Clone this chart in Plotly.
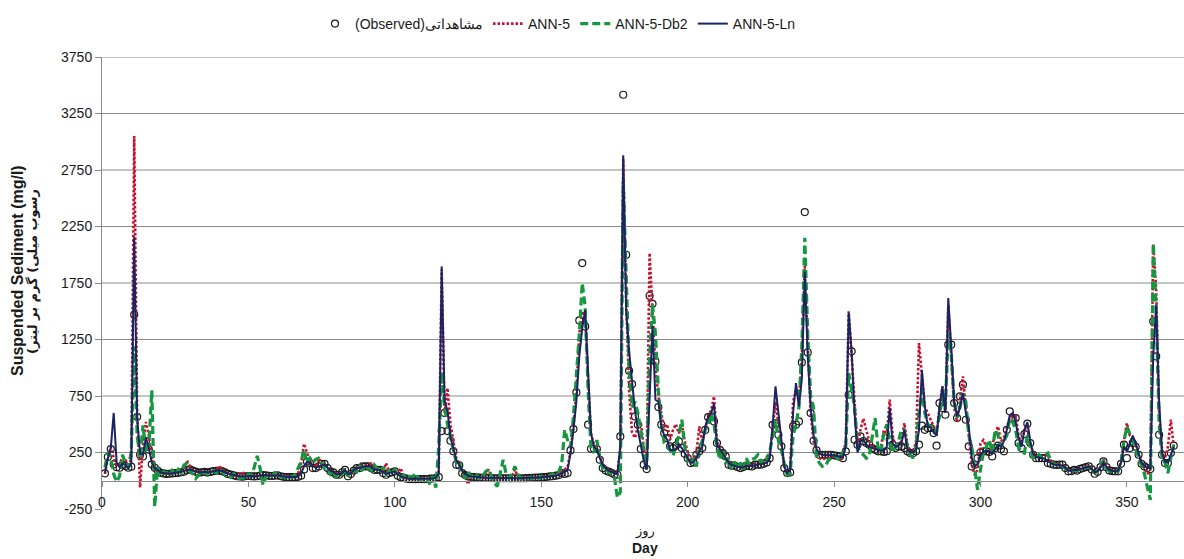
import plotly.graph_objects as go

days = list(range(1, 367))

observed = [
    65, 210, 280, 145, 120, 115, 140, 130, 115, 125,
    1470, 566, 230, 215, 350, 275, 145, 115, 90, 70,
    65, 60, 62, 65, 68, 70, 75, 80, 95, 100,
    90, 80, 72, 75, 78, 72, 78, 85, 88, 90,
    85, 75, 60, 55, 48, 40, 38, 36, 40, 42,
    40, 38, 40, 45, 50, 48, 44, 42, 45, 48,
    40, 35, 32, 32, 32, 32, 35, 45, 100, 170,
    156, 112, 112, 127, 150, 150, 112, 83, 74, 53,
    53, 74, 97, 40, 60, 90, 112, 112, 127, 127,
    127, 110, 97, 97, 97, 68, 53, 68, 75, 83,
    44, 32, 25, 18, 15, 15, 15, 15, 15, 15,
    15, 18, 20, 24, 32, 440, 600, 440, 354, 260,
    142, 136, 68, 50, 38, 35, 33, 30, 28, 25,
    25, 25, 24, 22, 22, 22, 22, 22, 22, 22,
    22, 22, 22, 22, 24, 25, 25, 27, 28, 30,
    32, 35, 38, 40, 45, 50, 68, 60, 68, 268,
    457, 782, 1419, 1926, 1366, 496, 283, 283, 280, 186,
    112, 90, 80, 70, 55, 53, 392, 3416, 2000, 973,
    855, 569, 496, 280, 142, 103, 1637, 1566, 1056, 652,
    496, 420, 378, 304, 289, 310, 348, 289, 240, 200,
    156, 162, 230, 260, 289, 450, 563, 569, 525, 333,
    274, 245, 215, 142, 133, 133, 121, 112, 121, 133,
    130, 127, 142, 142, 142, 150, 162, 200, 495, 510,
    407, 304, 112, 68, 74, 481, 496, 525, 1047, 2378,
    1136, 599, 354, 268, 230, 230, 230, 230, 230, 225,
    220, 215, 200, 260, 761, 1145, 363, 319, 392, 350,
    333, 319, 289, 274, 260, 260, 255, 260, 363, 319,
    289, 304, 304, 289, 260, 245, 245, 260, 319, 487,
    451, 466, 466, 422, 310, 687, 643, 584, 1204, 1204,
    687, 555, 746, 850, 540, 304, 127, 142, 200, 250,
    260, 260, 255, 215, 289, 310, 280, 260, 451, 614,
    546, 555, 333, 289, 413, 505, 333, 230, 200, 200,
    200, 200, 156, 150, 142, 140, 142, 142, 112, 83,
    85, 97, 90, 105, 112, 120, 127, 100, 62, 80,
    120, 171, 120, 91, 85, 83, 83, 150, 319, 200,
    289, 333, 300, 230, 150, 127, 112, 103, 1410, 1100,
    407, 230, 156, 156, 245, 310,
]

ann5 = [
    60, 200, 300, 200, 130, 150, 210, 190, 120, 200,
    3050, 600, -60, 330, 520, 400, 220, 110, 85, 70,
    65, 60, 65, 68, 72, 75, 80, 95, 180, 130,
    95, 85, 80, 78, 82, 76, 82, 90, 95, 130,
    100, 80, 65, 60, 52, 45, 60, 75, 50, 45,
    42, 40, 45, 48, 50, 50, 48, 45, 48, 50,
    45, 40, 36, 35, 35, 38, 60, 150, 327, 240,
    170, 140, 120, 200, 150, 140, 110, 95, 80, 65,
    60, 75, 100, 60, 70, 100, 115, 118, 130, 135,
    140, 150, 105, 100, 100, 80, 156, 80, 85, 90,
    60, 112, 40, 25, 20, 18, 20, 18, 18, 18,
    18, 20, 25, 40, 80, 1870, 600, 820, 500, 360,
    200, 150, 80, 40, -30, 40, 38, 35, 32, 30,
    60, 100, 40, 25, 25, 26, 30, 25, 25, 40,
    100, 40, 25, 24, 25, 26, 26, 28, 29, 31,
    33, 36, 40, 42, 50, 60, 75, 100, 120, 260,
    480, 800, 1300, 1500, 1450, 900, 420, 320, 300, 220,
    150, 115, 95, 85, 70, 60, 300, 2850, 1600, 800,
    430, 380, 480, 520, 300, 150, 2015, 1500, 1000, 750,
    600, 450, 500, 363, 450, 500, 420, 500, 350, 250,
    170, 180, 250, 480, 350, 450, 580, 620, 746, 350,
    290, 250, 220, 170, 150, 140, 130, 120, 125, 135,
    140, 135, 145, 150, 150, 155, 165, 210, 450, 700,
    500, 320, 130, 70, 100, 700, 800, 700, 1100, 1900,
    1200, 600, 350, 250, 200, 186, 200, 200, 210, 220,
    200, 190, 220, 350, 1500, 1100, 700, 300, 450, 550,
    450, 350, 300, 280, 280, 300, 450, 400, 717, 400,
    300, 320, 350, 510, 330, 260, 250, 350, 1218, 950,
    650, 600, 540, 480, 400, 650, 835, 600, 1550, 1150,
    650, 520, 700, 923, 650, 400, 150, 50, 100, 330,
    360, 300, 250, 300, 420, 480, 350, 380, 480, 560,
    580, 575, 400, 320, 450, 480, 320, 250, 220, 215,
    210, 220, 230, 180, 155, 150, 145, 140, 120, 95,
    90, 95, 95, 105, 115, 120, 128, 100, 70, 85,
    125, 190, 130, 95, 90, 85, 90, 170, 350, 510,
    400, 380, 320, 230, 150, 120, 60, 100, 2090, 1700,
    600, 280, 200, 300, 540, 300,
]

ann5_db2 = [
    120, 250, 200, 60, -10, 40, 230, 150, 120, 260,
    1190, 400, 200, 490, 250, 300, 800, -230, 120, 40,
    80, 70, 40, 90, 60, 100, 70, 140, 150, 90,
    60, 20, 50, 90, 70, 60, 100, 90, 70, 110,
    80, 50, 40, 30, 60, 30, 20, 30, 10, 60,
    50, 120, 220, 110, -40, 40, 60, 40, 70, 50,
    30, 40, 20, 40, 30, 60, 120, 170, 275, 150,
    200, 160, 190, 200, 170, 110, 120, 60, 90, 30,
    70, 60, 110, 40, 90, 100, 80, 130, 100, 140,
    110, 90, 140, 110, 70, 120, 60, 90, 60, 100,
    40, 30, 50, 20, 40, 30, 68, 20, 10, 30,
    20, -30, 40, -60, 300, 960, 650, 500, 380, 250,
    160, 170, 60, 20, 80, 40, 10, 50, 20, 40,
    80, 100, 30, -20, -50, 60, 185, 60, 20, 60,
    127, 60, 20, 30, 20, 30, 20, 30, 20, 40,
    30, 40, 50, 60, 40, 80, 150, 450, 360, 300,
    570, 900, 1300, 1750, 1540, 800, 275, 250, 360, 200,
    110, 120, 70, 60, 30, -150, -100, 2650, 1800, 1000,
    650, 700, 600, 450, 250, 100, 1100, 1560, 1300, 800,
    500, 333, 300, 274, 220, 300, 400, 540, 300, 180,
    140, 200, 127, 300, 350, 450, 500, 600, 500, 300,
    186, 280, 150, 200, 100, 170, 110, 160, 100, 200,
    150, 190, 200, 230, 160, 200, 180, 250, 400, 540,
    350, 280, 150, 50, 60, 400, 500, 650, 1200, 2150,
    1300, 750, 650, 200, 156, 127, 127, 180, 200, 230,
    200, 180, 250, 300, 953, 800, 650, 300, 250, 230,
    200, 215, 400, 555, 300, 250, 420, 500, 350, 250,
    300, 350, 450, 450, 300, 230, 200, 300, 600, 800,
    600, 500, 480, 430, 450, 570, 750, 650, 1300, 1130,
    700, 560, 650, 775, 700, 400, 304, 100, -80, 100,
    250, 300, 363, 250, 450, 400, 300, 350, 400, 550,
    520, 450, 300, 250, 245, 400, 300, 200, 200, 230,
    200, 230, 245, 180, 150, 140, 145, 130, 110, 90,
    85, 95, 90, 105, 110, 115, 120, 95, 70, 90,
    130, 180, 110, 85, 80, 80, 85, 160, 350, 480,
    420, 350, 280, 200, 120, 60, -60, -170, 2100, 1500,
    500, 200, 160, 68, 200, 320,
]

ann5_ln = [
    70, 200, 290, 600, 160, 120, 150, 140, 110, 150,
    2160, 560, 240, 230, 380, 290, 160, 110, 95, 75,
    68, 62, 62, 66, 70, 72, 78, 85, 98, 100,
    92, 82, 75, 76, 80, 74, 80, 86, 90, 92,
    86, 76, 62, 56, 50, 42, 40, 38, 41, 44,
    42, 40, 42, 46, 52, 50, 46, 44, 46, 48,
    42, 37, 34, 33, 33, 34, 40, 60, 130, 165,
    160, 130, 115, 125, 140, 145, 115, 90, 78, 60,
    55, 70, 95, 60, 65, 95, 110, 112, 125, 128,
    130, 120, 100, 98, 95, 75, 60, 70, 78, 82,
    55, 38, 30, 22, 18, 17, 17, 16, 16, 16,
    16, 18, 20, 30, 60, 1897, 700, 620, 380, 290,
    180, 140, 90, 60, 45, 40, 36, 33, 30, 28,
    27, 26, 25, 24, 23, 23, 23, 23, 22, 22,
    23, 23, 23, 23, 24, 25, 25, 27, 28, 30,
    32, 35, 38, 40, 45, 52, 70, 80, 97, 245,
    450, 700, 1100, 1350, 1510, 950, 420, 300, 275, 200,
    140, 110, 90, 80, 65, 60, 300, 2880, 1500, 1150,
    900, 620, 450, 300, 180, 100, 800, 1366, 717, 700,
    480, 400, 363, 274, 270, 280, 318, 290, 245, 200,
    160, 165, 200, 260, 300, 480, 560, 600, 680, 320,
    280, 240, 210, 160, 140, 135, 125, 118, 120, 130,
    135, 130, 140, 145, 145, 150, 160, 200, 480, 835,
    600, 333, 127, 68, 97, 600, 864, 658, 900, 1850,
    1100, 650, 400, 280, 240, 230, 225, 225, 228, 225,
    220, 215, 210, 300, 1490, 1145, 600, 250, 350, 360,
    320, 300, 290, 280, 270, 265, 270, 300, 643, 330,
    300, 310, 330, 450, 280, 250, 255, 270, 450, 980,
    658, 480, 470, 440, 400, 650, 835, 600, 1617, 1190,
    700, 570, 650, 775, 600, 480, 200, 127, 150, 230,
    260, 265, 260, 240, 280, 320, 300, 350, 450, 580,
    600, 520, 380, 300, 450, 520, 350, 240, 210, 205,
    200, 195, 170, 155, 145, 142, 140, 135, 115, 90,
    88, 95, 95, 105, 112, 118, 125, 105, 75, 85,
    120, 160, 125, 95, 88, 85, 90, 160, 300, 260,
    320, 400, 330, 240, 160, 130, 115, 110, 1100, 1560,
    700, 250, 170, 160, 230, 300,
]

for arr in (observed, ann5, ann5_db2, ann5_ln):
    assert len(arr) == len(days), len(arr)

y_ticks = [-250, 250, 750, 1250, 1750, 2250, 2750, 3250, 3750]
y_tick_text = ["-250", "250", "750", "1250", "1750", "2250", "2750", "3250", "3750"]
x_ticks = [0, 50, 100, 150, 200, 250, 300, 350]
grid_levels = [250, 750, 1250, 1750, 2250, 2750, 3250, 3750]

names = ["(Observed)مشاهداتی", "ANN-5", "ANN-5-Db2", "ANN-5-Ln"]

TICK_FONT = "Liberation Sans, Arial, sans-serif"
LEG_FONT = "Liberation Sans, Arial, sans-serif"
AXIS_GRAY = "#8a8a8a"
TEXT = "#1a1a1a"

fig = go.Figure()
fig.add_trace(go.Scatter(
    x=days, y=observed, name=names[0], mode="markers",
    marker=dict(symbol="circle-open", size=7, color=TEXT, line=dict(width=1.2, color=TEXT)),
))
fig.add_trace(go.Scatter(
    x=days, y=ann5, name=names[1], mode="lines",
    line=dict(color="#C8102E", width=2.6, dash="2.5px,2px"),
))
fig.add_trace(go.Scatter(
    x=days, y=ann5_db2, name=names[2], mode="lines",
    line=dict(color="#15973F", width=3.2, dash="8px,4px"),
))
fig.add_trace(go.Scatter(
    x=days, y=ann5_ln, name=names[3], mode="lines",
    line=dict(color="#1B2463", width=2),
))

shapes = [
    dict(type="line", xref="paper", x0=0, x1=1, yref="y", y0=g, y1=g,
         line=dict(color=AXIS_GRAY, width=1), layer="below")
    for g in grid_levels
]

annotations = [
    dict(text="<b>Suspended Sediment (mg/l)</b>", textangle=-90,
         xref="paper", yref="paper", x=(17 - 102) / 1082, y=(509 - 271) / 452,
         xanchor="center", yanchor="middle", showarrow=False,
         font=dict(family=TICK_FONT, size=16, color=TEXT)),
    dict(text="<b>\u202bرسوب میلی) گرم بر لیتر)\u202c</b>", textangle=-90,
         xref="paper", yref="paper", x=(33 - 102) / 1082, y=(509 - 272) / 452,
         xanchor="center", yanchor="middle", showarrow=False,
         font=dict(family="DejaVu Sans, sans-serif", size=13, color=TEXT)),
    dict(text="روز", xref="paper", yref="paper",
         x=(645 - 102) / 1082, y=(509 - 531) / 452,
         xanchor="center", yanchor="middle", showarrow=False,
         font=dict(family="DejaVu Sans, sans-serif", size=13, color=TEXT)),
    dict(text="<b>Day</b>", xref="paper", yref="paper",
         x=(645 - 102) / 1082, y=(509 - 548) / 452,
         xanchor="center", yanchor="middle", showarrow=False,
         font=dict(family=TICK_FONT, size=14, color=TEXT)),
]

fig.update_layout(
    width=1184, height=559,
    margin=dict(l=102, r=0, t=57, b=50),
    paper_bgcolor="white", plot_bgcolor="white",
    showlegend=True,
    legend=dict(orientation="h", xref="container", yref="container",
                x=315 / 1184, y=1 - 8 / 559, xanchor="left", yanchor="top",
                font=dict(family=LEG_FONT, size=14, color=TEXT),
                bgcolor="rgba(0,0,0,0)", itemclick=False),
    shapes=shapes,
    annotations=annotations,
    xaxis=dict(range=[0, 369.5], tickvals=x_ticks, showgrid=False, zeroline=False,
               showline=True, linecolor=AXIS_GRAY, linewidth=1,
               ticks="outside", ticklen=5, tickcolor=AXIS_GRAY,
               anchor="free", position=250 / 4000, ticklabelstandoff=3,
               tickfont=dict(family=TICK_FONT, size=14, color=TEXT)),
    yaxis=dict(range=[-250, 3750], tickvals=y_ticks, ticktext=y_tick_text,
               showgrid=False, zeroline=False,
               showline=True, linecolor=AXIS_GRAY, linewidth=1,
               ticks="outside", ticklen=6, tickcolor=AXIS_GRAY,
               tickfont=dict(family=TICK_FONT, size=14, color=TEXT)),
)

fig.write_html("out.html")
